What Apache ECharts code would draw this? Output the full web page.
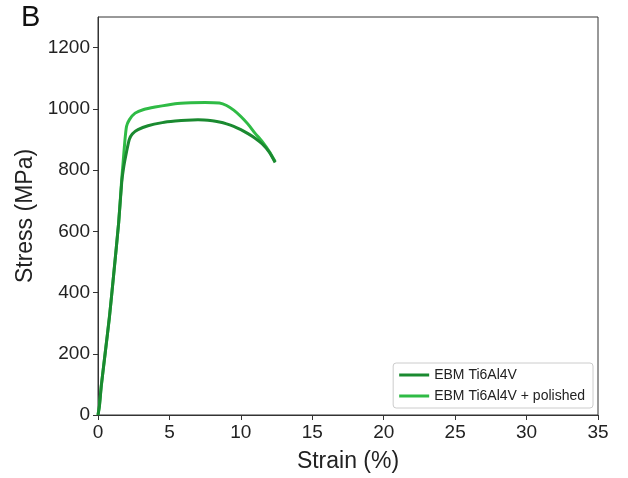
<!DOCTYPE html>
<html>
<head>
<meta charset="utf-8">
<script src="https://cdn.jsdelivr.net/npm/echarts@6/dist/echarts.min.js"></script>
<style>html,body{margin:0;padding:0;background:#fff;}#c{width:628px;height:478px;}</style>
</head>
<body>
<div id="c"></div>
<script>
const seriesNames = ['EBM Ti6Al4V', 'EBM Ti6Al4V + polished'];
const strainA = [0,0.1,0.23,0.51,0.8,1.1,1.45,1.66,1.8,2.0,2.19,2.4,2.8,3.5,4.5,5.4,6.2,7,8,8.5,9,9.5,10,10.5,11,11.5,12,12.4];
const stressA = [0,30,95,205,320,460,630,760,810,860,900,918,932,945,955,960,963,964,961,957,951,943,932,919,904,885,858,825];
const strainB = [0,0.1,0.23,0.51,0.8,1.1,1.45,1.66,1.75,1.89,2.0,2.2,2.6,3.2,4,5.4,6.5,7.5,8.5,9,9.5,10,10.5,11,11.5,12,12.4];
const stressB = [0,30,95,205,320,460,630,770,820,900,943,965,986,998,1006,1017,1020,1021,1019,1011,996,975,950,920,893,860,828];
const xTicks = [0,5,10,15,20,25,30,35];
const yTicks = [0,200,400,600,800,1000,1200];
const colors = ['#1a8a30', '#2fbb45'];

const zip = (a, b) => a.map((v, i) => [v, b[i]]);
const font = 'Liberation Sans, Arial, sans-serif';
const chart = echarts.init(document.getElementById('c'));
chart.setOption({
  animation: false,
  backgroundColor: '#fff',
  grid: {left: 98, right: 30, top: 17, bottom: 62, show: true, borderColor: '#333', borderWidth: 1},
  graphic: [{type: 'text', left: 21, top: 3, style: {text: 'B', font: '29px ' + font, fill: '#111'}}],
  legend: {
    right: 35, bottom: 70, orient: 'vertical', itemWidth: 30, itemHeight: 3, itemGap: 7,
    padding: [5, 8, 5, 6], borderColor: '#ccc', borderWidth: 1, borderRadius: 3,
    icon: 'rect',
    textStyle: {fontFamily: font, fontSize: 14, color: '#222'},
    data: seriesNames
  },
  xAxis: {
    type: 'value', min: 0, max: 35, interval: 5,
    name: 'Strain (%)', nameLocation: 'middle', nameGap: 35,
    nameTextStyle: {fontFamily: font, fontSize: 23, color: '#222'},
    axisLine: {show: true, lineStyle: {color: '#333'}},
    axisTick: {show: true, inside: false, length: 5, customValues: xTicks, lineStyle: {color: '#333'}},
    axisLabel: {fontFamily: font, fontSize: 19, color: '#222', margin: 8, customValues: xTicks},
    splitLine: {show: false}
  },
  yAxis: {
    type: 'value', min: 0, max: 1300,
    name: 'Stress (MPa)', nameLocation: 'middle', nameGap: 56,
    nameTextStyle: {fontFamily: font, fontSize: 23, color: '#222'},
    axisLine: {show: true, lineStyle: {color: '#333'}},
    axisTick: {show: true, inside: false, length: 5, customValues: yTicks, lineStyle: {color: '#333'}},
    axisLabel: {fontFamily: font, fontSize: 19, color: '#222', margin: 8, customValues: yTicks,
                formatter: v => String(v)},
    splitLine: {show: false}
  },
  series: [
    {name: seriesNames[0], type: 'line', data: zip(strainA, stressA), showSymbol: false, smooth: 0.2,
     lineStyle: {color: colors[0], width: 3}, itemStyle: {color: colors[0]}, z: 3},
    {name: seriesNames[1], type: 'line', data: zip(strainB, stressB), showSymbol: false, smooth: 0.2,
     lineStyle: {color: colors[1], width: 3}, itemStyle: {color: colors[1]}, z: 2}
  ]
});
</script>
</body>
</html>
